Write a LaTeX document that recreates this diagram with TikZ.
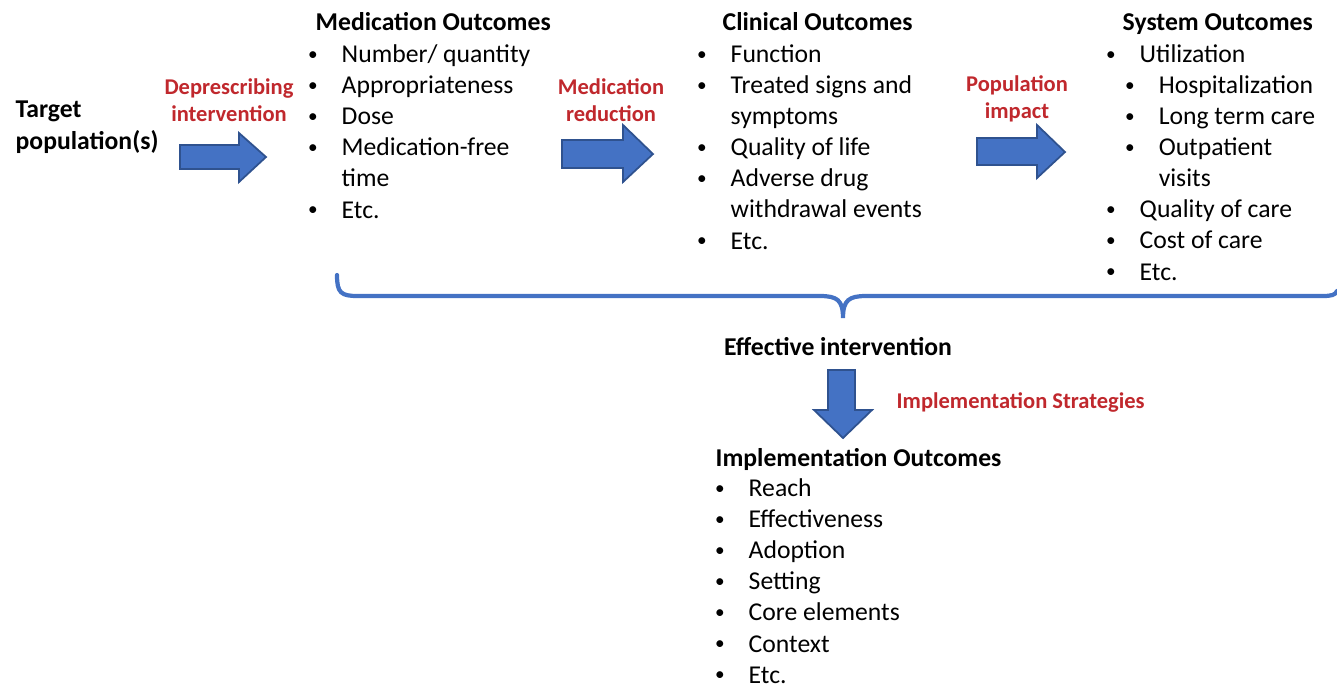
\documentclass[tikz,border=0pt]{standalone}
\usepackage{fontspec}
\setmainfont{Carlito}
\usepackage{graphicx}
\usepackage{xcolor}

\definecolor{arrowblue}{HTML}{4472C4}
\definecolor{arrowedge}{HTML}{2F528F}
\definecolor{labelred}{HTML}{C0282D}

\newcommand{\bul}{\makebox[0.35cm][l]{\hspace*{0.015cm}\raisebox{0.6pt}{\scalebox{0.75}{\textbullet}}}}
\newcommand{\subbul}{\hspace*{0.19cm}\bul}
\newcommand{\cont}{\hspace*{0.35cm}}

\tikzset{
  body/.style={inner sep=0pt, font=\fontsize{7.3}{8.82}\selectfont},
  heading/.style={body, font=\fontsize{7.3}{8.82}\selectfont\bfseries},
  itemlist/.style={body, align=left, anchor=base west},
  redlabel/.style={inner sep=0pt, align=center, text=labelred,
    font=\fontsize{6.4}{7.4}\selectfont\bfseries},
  blockarrow/.style={fill=arrowblue, draw=arrowedge, line width=0.5pt, line join=miter},
  bracket/.style={draw=arrowblue, line width=1.2pt, line cap=round}
}

\begin{document}
\begin{tikzpicture}[x=0.01cm, y=-0.01cm]
  \useasboundingbox (0,0) rectangle (1337,684);

  % start of the chain (base = last line)
  \node[heading, align=left, anchor=base west] (target) at (15,149) {Target\\population(s)};

  \node[redlabel, anchor=base] (deprescribe) at (229,121) {Deprescribing\\intervention};
  \filldraw[blockarrow] (180,145) -- (239,145) -- (239,133) -- (266,157) -- (239,182)
    -- (239,169) -- (180,169) -- cycle;

  % medication outcomes
  \node[heading, anchor=base west] (medhead) at (315,30) {Medication Outcomes};
  \node[itemlist] (medlist) at (306,218) {%
    \bul Number/ quantity\\
    \bul Appropriateness\\
    \bul Dose\\
    \bul Medication-free\\
    \cont time\\
    \bul Etc.};

  \node[redlabel, anchor=base] (reduction) at (611,121) {Medication\\reduction};
  \filldraw[blockarrow] (562,140) -- (623,140) -- (623,125) -- (653,154) -- (623,182)
    -- (623,168) -- (562,168) -- cycle;

  % clinical outcomes
  \node[heading, anchor=base west] (clinhead) at (722,30) {Clinical Outcomes};
  \node[itemlist] (clinlist) at (695,249) {%
    \bul Function\\
    \bul Treated signs and\\
    \cont symptoms\\
    \bul Quality of life\\
    \bul Adverse drug\\
    \cont withdrawal events\\
    \bul Etc.};

  \node[redlabel, anchor=base] (impact) at (1017,118) {Population\\impact};
  \filldraw[blockarrow] (977,138) -- (1037,138) -- (1037,125) -- (1065,152) -- (1037,178)
    -- (1037,165) -- (977,165) -- cycle;

  % system outcomes
  \node[heading, anchor=base west] (syshead) at (1122,30) {System Outcomes};
  \node[itemlist] (syslist) at (1104,280) {%
    \bul Utilization\\
    \subbul Hospitalization\\
    \subbul Long term care\\
    \subbul Outpatient\\
    \hspace*{0.19cm}\cont visits\\
    \bul Quality of care\\
    \bul Cost of care\\
    \bul Etc.};

  % brace under the three outcome groups
  \draw[bracket] (337,275) .. controls (337,293) and (341,296) .. (358,296)
    -- (820,296) .. controls (837,296) and (843,300) .. (843,318)
    .. controls (843,300) and (849,296) .. (866,296)
    -- (1322,296) .. controls (1332,296) and (1335,295) .. (1337,291);

  \node[heading, anchor=base] (effective) at (838,355) {Effective intervention};

  \filldraw[blockarrow] (828,370) -- (855,370) -- (855,410) -- (872,410) -- (843,438)
    -- (814,410) -- (828,410) -- cycle;
  \node[redlabel, anchor=base west] (strategies) at (896,408) {Implementation Strategies};

  % implementation outcomes
  \node[heading, anchor=base west] (implhead) at (715,466) {Implementation Outcomes};
  \node[itemlist] (impllist) at (713,683) {%
    \bul Reach\\
    \bul Effectiveness\\
    \bul Adoption\\
    \bul Setting\\
    \bul Core elements\\
    \bul Context\\
    \bul Etc.};
\end{tikzpicture}
\end{document}
